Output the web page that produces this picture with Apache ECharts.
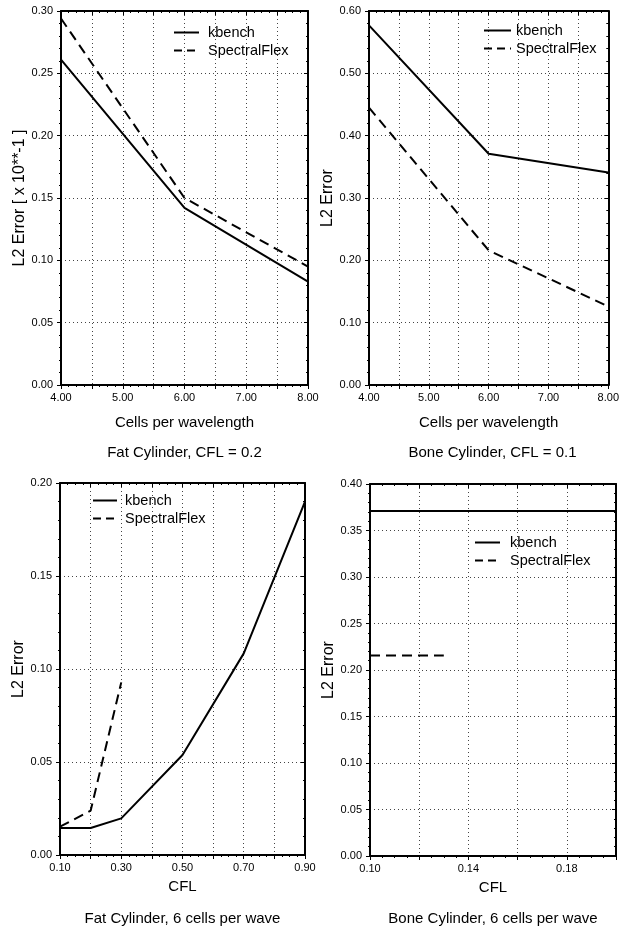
<!DOCTYPE html>
<html>
<head>
<meta charset="utf-8">
<script src="https://cdn.jsdelivr.net/npm/echarts@6/dist/echarts.min.js"></script>
<style>html,body{margin:0;padding:0;background:#fff}#c{width:622px;height:929px}</style>
</head>
<body>
<div id="c"></div>
<script>
// ---- data ----
const seriesNames = ['kbench', 'SpectralFlex'];
const cellsX = [4, 6, 8];
const fatCflKbench = [0.261, 0.142, 0.083];
const fatCflSpectral = [0.294, 0.150, 0.095];
const boneCflKbench = [0.577, 0.371, 0.341];
const boneCflSpectral = [0.445, 0.216, 0.126];
const fatCellsKbenchX = [0.1, 0.2, 0.3, 0.5, 0.7, 0.9];
const fatCellsKbench = [0.0145, 0.0145, 0.0197, 0.0538, 0.1084, 0.190];
const fatCellsSpectralX = [0.1, 0.2, 0.3];
const fatCellsSpectral = [0.0152, 0.0238, 0.0928];
const boneCellsKbenchX = [0.1, 0.2];
const boneCellsKbench = [0.371, 0.371];
const boneCellsSpectralX = [0.1, 0.13];
const boneCellsSpectral = [0.2155, 0.2155];
const xTitles = ['Cells per wavelength', 'Cells per wavelength', 'CFL', 'CFL'];
const yTitles = ['L2 Error [ x 10**-1 ]', 'L2 Error', 'L2 Error', 'L2 Error'];
const captions = ['Fat Cylinder, CFL = 0.2', 'Bone Cylinder, CFL = 0.1', 'Fat Cylinder, 6 cells per wave', 'Bone Cylinder, 6 cells per wave'];

const FONT = 'Liberation Sans, Arial, sans-serif';
const zip = (xs, ys) => xs.map((x, i) => [x, ys[i]]);

const grids = [
  {left: 61, top: 11, width: 247, height: 374},
  {left: 369, top: 11, width: 247, height: 374},
  {left: 60, top: 483, width: 245, height: 372},
  {left: 370, top: 484, width: 246, height: 372}
];
const xCfg = [
  {min: 4, max: 8, interval: 0.5, fmt: v => (Math.abs(v - Math.round(v)) < 1e-6 ? v.toFixed(2) : '')},
  {min: 4, max: 8, interval: 0.5, fmt: v => (Math.abs(v - Math.round(v)) < 1e-6 ? v.toFixed(2) : '')},
  {min: 0.1, max: 0.9, interval: 0.1, fmt: v => (Math.round(v * 10) % 2 === 1 ? v.toFixed(2) : '')},
  {min: 0.1, max: 0.2, interval: 0.02, fmt: v => ((Math.round(v * 100) - 10) % 4 === 0 && Math.round(v*100) < 20 ? v.toFixed(2) : '')}
];
const yCfg = [
  {min: 0, max: 0.30, interval: 0.05},
  {min: 0, max: 0.60, interval: 0.10},
  {min: 0, max: 0.20, interval: 0.05},
  {min: 0, max: 0.40, interval: 0.05}
];
const legendPos = [
  {left: 173, top: 25, w: 25, pad: 4},
  {left: 483, top: 23, w: 27, pad: 0},
  {left: 92, top: 493, w: 24, pad: 3},
  {left: 474, top: 535, w: 25, pad: 5}
];
const dataSets = [
  [zip(cellsX, fatCflKbench), zip(cellsX, fatCflSpectral)],
  [zip(cellsX, boneCflKbench), zip(cellsX, boneCflSpectral)],
  [zip(fatCellsKbenchX, fatCellsKbench), zip(fatCellsSpectralX, fatCellsSpectral)],
  [zip(boneCellsKbenchX, boneCellsKbench), zip(boneCellsSpectralX, boneCellsSpectral)]
];
const DASH = [10, 6];

const axisLine = {show: true, onZero: false, lineStyle: {color: '#000', width: 2}};
const split = {show: true, lineStyle: {color: '#444', width: 1, type: [1, 3]}};
const labelStyle = {color: '#000', fontFamily: FONT, fontSize: 11};

const xAxis = [], yAxis = [], series = [], legend = [], title = [];
grids.forEach((g, i) => {
  const xc = xCfg[i], yc = yCfg[i];
  xAxis.push({
    gridIndex: i, type: 'value', position: 'bottom', min: xc.min, max: xc.max, interval: xc.interval,
    axisLine, axisTick: {show: true, inside: false, length: 4, lineStyle: {color: '#000', width: 1}},
    minorTick: {show: true, splitNumber: 4, length: 2, lineStyle: {color: '#000'}},
    axisLabel: {show: true, margin: 7, formatter: xc.fmt, ...labelStyle, showMinLabel: true, showMaxLabel: true},
    splitLine: split,
    name: xTitles[i], nameLocation: 'middle', nameGap: i < 2 ? 30 : 24,
    nameTextStyle: {color: '#000', fontFamily: FONT, fontSize: 15}
  });
  xAxis.push({
    gridIndex: i, type: 'value', position: 'top', min: xc.min, max: xc.max, interval: xc.interval,
    axisLine, axisTick: {show: true, inside: true, length: 4, lineStyle: {color: '#000', width: 1}},
    minorTick: {show: true, splitNumber: 4, length: 2, lineStyle: {color: '#000'}},
    axisLabel: {show: false}, splitLine: {show: false}
  });
  yAxis.push({
    gridIndex: i, type: 'value', position: 'left', min: yc.min, max: yc.max, interval: yc.interval,
    axisLine, axisTick: {show: true, inside: false, length: 4, lineStyle: {color: '#000', width: 1}},
    minorTick: {show: true, splitNumber: 5, length: 2, lineStyle: {color: '#000'}},
    axisLabel: {show: true, margin: 8, formatter: v => v.toFixed(2), ...labelStyle},
    splitLine: split,
    name: yTitles[i], nameLocation: 'middle', nameGap: 33, nameRotate: 90,
    nameTextStyle: {color: '#000', fontFamily: FONT, fontSize: 16}
  });
  yAxis.push({
    gridIndex: i, type: 'value', position: 'right', min: yc.min, max: yc.max, interval: yc.interval,
    axisLine, axisTick: {show: true, inside: true, length: 4, lineStyle: {color: '#000', width: 1}},
    minorTick: {show: true, splitNumber: 5, length: 2, lineStyle: {color: '#000'}},
    axisLabel: {show: false}, splitLine: {show: false}
  });
  const ds = dataSets[i];
  seriesNames.forEach((nm, k) => {
    series.push({
      type: 'line', name: nm, xAxisIndex: i * 2, yAxisIndex: i * 2, data: ds[k],
      symbol: 'none', showSymbol: false, animation: false, silent: true,
      lineStyle: {color: '#000', width: 2, type: k === 0 ? 'solid' : DASH},
      itemStyle: {color: '#000', opacity: 0}
    });
  });
  const lp = legendPos[i];
  legend.push({
    left: lp.left, top: lp.top, orient: 'vertical', itemWidth: lp.w, itemHeight: 14, itemGap: 3,
    data: seriesNames.map((n, k) => ({
      name: n,
      itemStyle: {opacity: 0},
      lineStyle: {color: '#000', width: 2, type: k === 0 ? 'solid' : [8, 5]}
    })),
    itemStyle: {opacity: 0},
    lineStyle: {color: '#000', width: 2},
    textStyle: {color: '#000', fontFamily: FONT, fontSize: 14.5, padding: [0, 0, 0, lp.pad]},
    selectedMode: false, padding: 0
  });
  title.push({
    text: captions[i], left: g.left + g.width / 2, textAlign: 'center',
    top: i < 2 ? 445 : 911, padding: 0,
    textStyle: {color: '#000', fontFamily: FONT, fontSize: 15, fontWeight: 'normal'}
  });
});

const chart = echarts.init(document.getElementById('c'), null, {renderer: 'canvas'});
chart.setOption({
  backgroundColor: '#fff',
  animation: false,
  title, legend,
  grid: grids.map(g => ({...g, containLabel: false})),
  xAxis, yAxis, series
});
</script>
</body>
</html>
